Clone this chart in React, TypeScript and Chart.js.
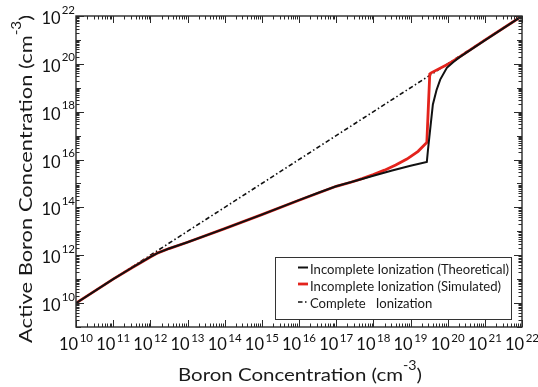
import { useEffect, useRef } from "react";
import { Chart, registerables } from "chart.js";

Chart.register(...registerables);

// Incomplete ionization, theoretical model (cm^-3)
const theoreticalX = [
  1e10, 1e11, 3.2e11, 5.6e11, 1e12, 1.6e12, 3.2e12, 1e13, 1e14, 1e15, 1e16, 3.2e16,
  1e17, 3.2e17, 1e18, 3.2e18, 1e19, 2.75e19, 2.95e19, 3.3e19, 4e19, 5e19,
  6.3e19, 9.5e19, 1.4e20, 2.1e20, 1e21, 1e22,
];
const theoreticalY = [
  1e10, 1e11, 3.0e11, 5.0e11, 8.5e11, 1.26e12, 1.9e12, 3.5e12, 1.3e13, 5e13, 2e14, 4e14,
  7.6e14, 1.26e15, 2.1e15, 3.5e15, 5.5e15, 7.9e15, 2.5e16, 1.26e17, 2e18, 7.9e18,
  2.2e19, 6.8e19, 1.17e20, 1.9e20, 9.5e20, 1e22,
];

// Incomplete ionization, simulated (cm^-3)
const simulatedX = [
  1e10, 1e11, 3.2e11, 5.6e11, 1e12, 1.6e12, 3.2e12, 1e13, 1e14, 1e15, 1e16, 1e17,
  2.5e17, 5e17, 1e18, 2e18, 4e18, 8e18, 1.6e19, 2.75e19, 3.3e19, 3.6e19, 9.5e19, 2.1e20,
  1e21, 1e22,
];
const simulatedY = [
  1e10, 1e11, 3.0e11, 5.0e11, 8.5e11, 1.26e12, 1.9e12, 3.5e12, 1.3e13, 5e13, 2e14, 7.6e14,
  1.12e15, 1.6e15, 2.35e15, 3.6e15, 5.9e15, 1.05e16, 2.2e16, 5.2e16, 3.8e19, 4.2e19, 9.1e19,
  1.95e20, 9.8e20, 1e22,
];

// Complete ionization: active = total
const completeX = [1e10, 1e22];
const completeY = [1e10, 1e22];

const seriesLabels = [
  "Incomplete Ionization (Theoretical)",
  "Incomplete Ionization (Simulated)",
  "Complete   Ionization",
];
const seriesColors = ["#111111", "#e3231c", "#111111"];

const xTickExponents = [10, 11, 12, 13, 14, 15, 16, 17, 18, 19, 20, 21, 22];
const yTickExponents = [10, 12, 14, 16, 18, 20, 22];
const xTitleText = "Boron Concentration (cm";
const yTitleText = "Active Boron Concentration (cm";
const unitExponent = "-3";

const FONT = "Lato, 'Liberation Sans', sans-serif";

function font(size: number) {
  return `${size}px ${FONT}`;
}

const toPoints = (xs: number[], ys: number[]) => xs.map((x, i) => ({ x, y: ys[i] }));

const decorPlugin = {
  id: "logDecor",
  afterDatasetsDraw(chart: any) {
    const { ctx, chartArea: a } = chart;
    const xs = chart.scales.x;
    const ys = chart.scales.y;
    ctx.save();

    // frame
    ctx.strokeStyle = "#2a2a2a";
    ctx.lineWidth = 1.4;
    ctx.strokeRect(a.left, a.top, a.right - a.left, a.bottom - a.top);

    // inward tick marks on all four sides
    ctx.lineWidth = 1;
    ctx.beginPath();
    const xLo = Math.floor(Math.log10(xs.min));
    const xHi = Math.ceil(Math.log10(xs.max));
    for (let k = xLo; k <= xHi; k++) {
      for (let m = 1; m <= 9; m++) {
        const v = m * Math.pow(10, k);
        if (v < xs.min * 0.999 || v > xs.max * 1.001) continue;
        const px = Math.round(xs.getPixelForValue(v)) + 0.5;
        const len = m === 1 ? 7 : 3.5;
        ctx.moveTo(px, a.bottom);
        ctx.lineTo(px, a.bottom - len);
        ctx.moveTo(px, a.top);
        ctx.lineTo(px, a.top + len);
      }
    }
    const yLo = Math.floor(Math.log10(ys.min));
    const yHi = Math.ceil(Math.log10(ys.max));
    for (let k = yLo; k <= yHi; k++) {
      for (let m = 1; m <= 9; m++) {
        const v = m * Math.pow(10, k);
        if (v < ys.min * 0.999 || v > ys.max * 1.001) continue;
        const py = Math.round(ys.getPixelForValue(v)) + 0.5;
        const len = m === 1 ? (yTickExponents.includes(k) ? 8 : 5) : 3.5;
        ctx.moveTo(a.left, py);
        ctx.lineTo(a.left + len, py);
        ctx.moveTo(a.right, py);
        ctx.lineTo(a.right - len, py);
      }
    }
    ctx.stroke();

    // tick labels: 10 with superscript exponent
    const baseSize = 16.5;
    const expSize = 11.5;
    ctx.fillStyle = "#111";
    ctx.textBaseline = "alphabetic";
    ctx.textAlign = "left";
    for (const e of xTickExponents) {
      const px = xs.getPixelForValue(Math.pow(10, e));
      ctx.font = font(baseSize);
      const wb = ctx.measureText("10").width;
      ctx.font = font(expSize);
      const we = ctx.measureText(String(e)).width;
      const start = px - (wb + 1.5 + we) / 2;
      ctx.font = font(baseSize);
      ctx.fillText("10", start, 349.5);
      ctx.font = font(expSize);
      ctx.fillText(String(e), start + wb + 1.5, 342);
    }
    for (const e of yTickExponents) {
      const py = ys.getPixelForValue(Math.pow(10, e));
      ctx.font = font(expSize);
      const we = ctx.measureText(String(e)).width;
      ctx.font = font(baseSize);
      const wb = ctx.measureText("10").width;
      const right = 75;
      ctx.fillText("10", right - we - 1 - wb, py + 8);
      ctx.font = font(expSize);
      ctx.fillText(String(e), right - we, py - 2.5);
    }

    // axis titles with cm^-3 units, stretched to a set width
    const drawTitle = (text: string, cx: number, baseline: number, target: number) => {
      ctx.font = font(18);
      const w1 = ctx.measureText(text).width;
      const w3 = ctx.measureText(")").width;
      ctx.font = font(12.5);
      const w2 = ctx.measureText(unitExponent).width;
      const total = w1 + w2 + w3;
      const s = target / total;
      ctx.save();
      ctx.translate(cx - target / 2, baseline);
      ctx.scale(s, 1);
      ctx.font = font(18);
      ctx.fillText(text, 0, 0);
      ctx.font = font(12.5);
      ctx.fillText(unitExponent, w1, -11.5);
      ctx.font = font(18);
      ctx.fillText(")", w1 + w2, 0);
      ctx.restore();
    };
    ctx.fillStyle = "#1a1a1a";
    drawTitle(xTitleText, 300, 381, 244);
    ctx.save();
    ctx.translate(32, 179);
    ctx.rotate(-Math.PI / 2);
    drawTitle(yTitleText, 0, 0, 328);
    ctx.restore();

    // legend box
    const box = { l: 275, t: 257, r: 511, b: 319 };
    ctx.fillStyle = "#fff";
    ctx.fillRect(box.l, box.t, box.r - box.l, box.b - box.t);
    ctx.strokeStyle = "#333";
    ctx.lineWidth = 1;
    ctx.strokeRect(box.l + 0.5, box.t + 0.5, box.r - box.l, box.b - box.t);

    const rowsY = [267.5, 284, 302];
    const baselines = [274, 291, 307.5];
    const widths = [2, 2.8, 1.6];
    chart.data.datasets.forEach((ds: any, i: number) => {
      ctx.beginPath();
      ctx.strokeStyle = ds.borderColor;
      ctx.lineWidth = widths[i];
      ctx.setLineDash(ds.borderDash || []);
      ctx.moveTo(298, rowsY[i]);
      ctx.lineTo(308, rowsY[i]);
      ctx.stroke();
      ctx.setLineDash([]);
    });
    ctx.font = font(14);
    const ref = ctx.measureText(seriesLabels[0]).width;
    const sx = Math.min(1, 199 / ref);
    ctx.fillStyle = "#1a1a1a";
    seriesLabels.forEach((label, i) => {
      ctx.save();
      ctx.translate(310, baselines[i]);
      ctx.scale(sx, 1);
      ctx.fillText(label, 0, 0);
      ctx.restore();
    });

    ctx.restore();
  },
};

export default function App() {
  const canvasRef = useRef<HTMLCanvasElement | null>(null);

  useEffect(() => {
    const canvas = canvasRef.current;
    if (!canvas) return;
    const chart = new Chart(canvas, {
      type: "line",
      data: {
        datasets: [
          {
            label: seriesLabels[0],
            data: toPoints(theoreticalX, theoreticalY),
            borderColor: seriesColors[0],
            borderWidth: 2,
          },
          {
            label: seriesLabels[1],
            data: toPoints(simulatedX, simulatedY),
            borderColor: seriesColors[1],
            borderWidth: 2.8,
          },
          {
            label: seriesLabels[2],
            data: toPoints(completeX, completeY),
            borderColor: seriesColors[2],
            borderWidth: 1.6,
            borderDash: [4.5, 2.5, 1.5, 2.5],
          },
        ],
      },
      options: {
        animation: false,
        responsive: false,
        devicePixelRatio: 1,
        layout: { padding: { left: 76, top: 16, right: 16, bottom: 60 } },
        elements: { point: { radius: 0 }, line: { tension: 0 } },
        scales: {
          x: { type: "logarithmic", min: 1e10, max: 1e22, display: false },
          y: { type: "logarithmic", min: 1e9, max: 1e22, display: false },
        },
        plugins: { legend: { display: false }, tooltip: { enabled: false } },
      },
      plugins: [decorPlugin],
    } as any);
    return () => chart.destroy();
  }, []);

  return (
    <div style={{ position: "fixed", left: 0, top: 0, width: 538, height: 387, background: "#fff" }}>
      <canvas ref={canvasRef} width={538} height={387} style={{ display: "block" }} />
    </div>
  );
}
